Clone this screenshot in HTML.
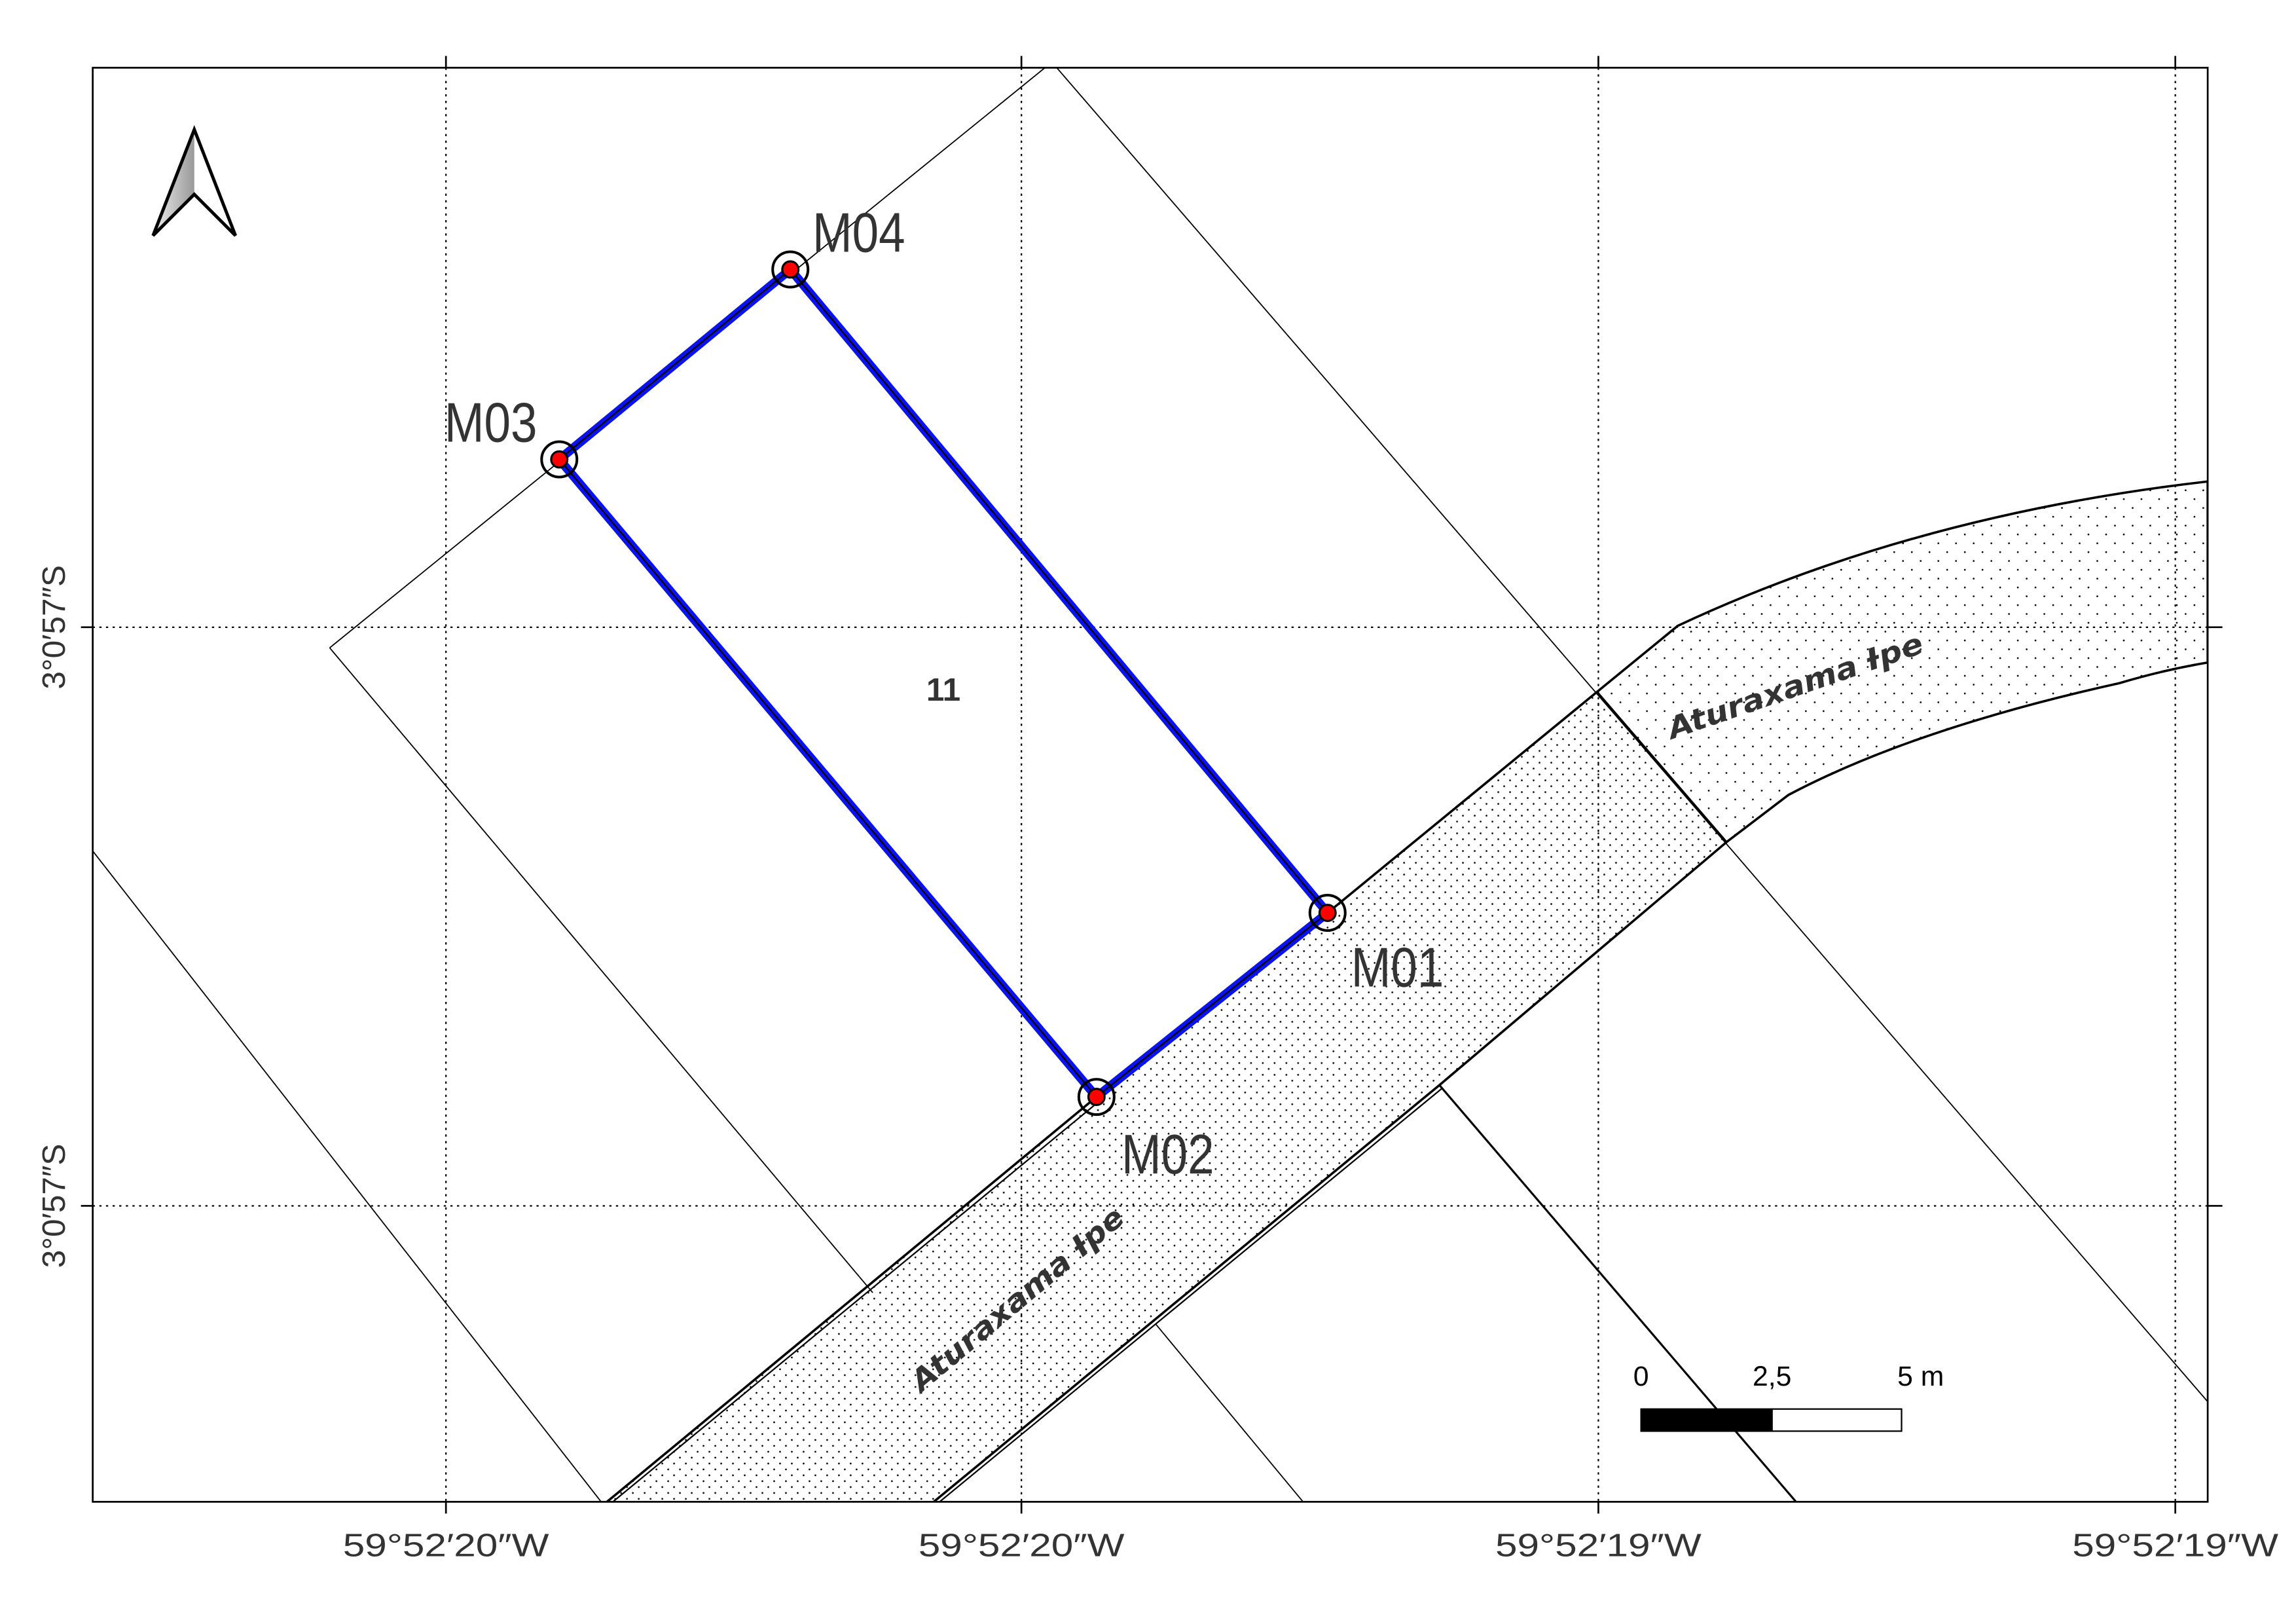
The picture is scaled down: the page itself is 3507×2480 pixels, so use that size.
<!DOCTYPE html>
<html><head><meta charset="utf-8"><style>
html,body{margin:0;padding:0;background:#fff}
svg{display:block}
</style></head><body>
<svg id="map" width="3507" height="2480" viewBox="0 0 1560 1103" preserveAspectRatio="none" xmlns="http://www.w3.org/2000/svg">
<defs>
<pattern id="dots" width="8" height="8" patternUnits="userSpaceOnUse">
<circle cx="2" cy="2" r="0.6" fill="#000"/><circle cx="6" cy="6" r="0.6" fill="#000"/>
</pattern>
<pattern id="dots2" width="12" height="12" patternUnits="userSpaceOnUse">
<circle cx="3" cy="3" r="0.6" fill="#000"/><circle cx="9" cy="9" r="0.6" fill="#000"/>
</pattern>
<linearGradient id="ng" x1="0" x2="1"><stop offset="0" stop-color="#eee"/><stop offset="1" stop-color="#999"/></linearGradient>
<clipPath id="frameclip"><rect x="63" y="46" width="1437" height="974"/></clipPath>
</defs>
<rect x="0" y="0" width="1560" height="1103" fill="#fff"/>
<g clip-path="url(#frameclip)">
  <path d="M410,1022 L745,745 L902,620 L1085,470 L1173,572 L978,737 L632,1022 Z" fill="url(#dots)" stroke="#000" stroke-width="1.6"/>
  <path d="M1085,470 L1140,425 Q1300,350 1500,327 L1500,450 Q1470,455 1440,464 Q1300,495 1215,540 L1173,572 Z" fill="url(#dots2)" stroke="#000" stroke-width="1.6"/>
  <line x1="414" y1="1022" x2="748" y2="747" stroke="#000" stroke-width="1"/>
  <line x1="636" y1="1022" x2="980" y2="739" stroke="#000" stroke-width="1"/>
  <g stroke="#000" stroke-width="0.8" fill="none">
    <polyline points="224,440 710,46"/>
    <line x1="224" y1="440" x2="593" y2="878"/>
    <line x1="63" y1="578" x2="410" y2="1022"/>
    <line x1="718" y1="46" x2="1500" y2="952"/>
    <line x1="785" y1="899" x2="887" y2="1022"/>
    <line x1="978" y1="737" x2="1222" y2="1022" stroke-width="1.4"/>
  </g>
</g>
<g stroke="#000" stroke-width="1" stroke-dasharray="1.5,3" fill="none">
  <line x1="303" y1="46" x2="303" y2="1020"/><line x1="694" y1="46" x2="694" y2="1020"/>
  <line x1="1086" y1="46" x2="1086" y2="1020"/><line x1="1478" y1="46" x2="1478" y2="1020"/>
  <line x1="63" y1="426" x2="1500" y2="426"/><line x1="63" y1="819" x2="1500" y2="819"/>
</g>
<g stroke="#000" stroke-width="1.2">
  <line x1="303" y1="38" x2="303" y2="46"/><line x1="694" y1="38" x2="694" y2="46"/><line x1="1086" y1="38" x2="1086" y2="46"/><line x1="1478" y1="38" x2="1478" y2="46"/>
  <line x1="303" y1="1020" x2="303" y2="1028"/><line x1="694" y1="1020" x2="694" y2="1028"/><line x1="1086" y1="1020" x2="1086" y2="1028"/><line x1="1478" y1="1020" x2="1478" y2="1028"/>
  <line x1="55" y1="426" x2="63" y2="426"/><line x1="55" y1="819" x2="63" y2="819"/>
  <line x1="1500" y1="426" x2="1510" y2="426"/><line x1="1500" y1="819" x2="1510" y2="819"/>
</g>
<rect x="63" y="46" width="1437" height="974" fill="none" stroke="#000" stroke-width="1.2"/>
<g id="marks"></g>
<text x="641" y="476" font-family="Liberation Sans, sans-serif" font-weight="bold" font-size="22" fill="#333" text-anchor="middle">11</text>
<text transform="translate(1136,502) rotate(-19)" font-family="DejaVu Sans, sans-serif" font-weight="bold" font-style="italic" font-size="20" fill="#333" textLength="182" lengthAdjust="spacingAndGlyphs">Aturaxama Ɨpe</text>
<text transform="translate(626,946) rotate(-40)" font-family="DejaVu Sans, sans-serif" font-weight="bold" font-style="italic" font-size="20" fill="#333" textLength="182" lengthAdjust="spacingAndGlyphs">Aturaxama Ɨpe</text>
<g font-family="Liberation Sans Narrow, Liberation Sans, sans-serif" font-size="22" fill="#333" text-anchor="middle">
  <text x="303" y="1057" textLength="140" lengthAdjust="spacingAndGlyphs">59°52′20″W</text><text x="694" y="1057" textLength="140" lengthAdjust="spacingAndGlyphs">59°52′20″W</text><text x="1086" y="1057" textLength="140" lengthAdjust="spacingAndGlyphs">59°52′19″W</text><text x="1478" y="1057" textLength="140" lengthAdjust="spacingAndGlyphs">59°52′19″W</text>
</g>
<g font-family="Liberation Sans Narrow, Liberation Sans, sans-serif" font-size="22" fill="#333" text-anchor="middle">
  <text transform="translate(44,426) rotate(-90)">3°0′57″S</text><text transform="translate(44,819) rotate(-90)">3°0′57″S</text>
</g>
<g>
  <path d="M132,88 L104,160 L132,132 Z" fill="url(#ng)"/>
  <path d="M132,88 L104,160 L132,132 L160,160 Z" fill="none" stroke="#000" stroke-width="2.2" stroke-linejoin="miter"/>
</g>
<g>
  <rect x="1115" y="957" width="89" height="15" fill="#000" stroke="#000"/>
  <rect x="1204" y="957" width="88" height="15" fill="#fff" stroke="#000"/>
  <g font-family="Liberation Sans Narrow, Liberation Sans, sans-serif" font-size="19" fill="#000" text-anchor="middle">
    <text x="1115" y="941">0</text><text x="1204" y="941">2,5</text><text x="1305" y="941">5 m</text>
  </g>
</g>
</svg>
<script>
const names = ['M01','M02','M03','M04'];
const xs = [902, 745, 380, 537];
const ys = [620, 745, 312, 183];
const lx = [918, 762, 302, 552];
const ly = [670, 797, 300, 171];
const NS='http://www.w3.org/2000/svg';
const g=document.getElementById('marks');
const pts=xs.map((x,i)=>x+','+ys[i]).join(' ');
const outer=document.createElementNS(NS,'polygon');
outer.setAttribute('points',pts);outer.setAttribute('fill','none');outer.setAttribute('stroke','#0a12f0');outer.setAttribute('stroke-width','6');


g.appendChild(outer);
const inner=document.createElementNS(NS,'polygon');
inner.setAttribute('points',pts);inner.setAttribute('fill','none');inner.setAttribute('stroke','#000');inner.setAttribute('stroke-width','1');


g.appendChild(inner);
xs.forEach(function(x,i){
  const c=document.createElementNS(NS,'circle');
  c.setAttribute('cx',x);c.setAttribute('cy',ys[i]);c.setAttribute('r','12');c.setAttribute('fill','none');c.setAttribute('stroke','#000');c.setAttribute('stroke-width','1.8');
  
  
  g.appendChild(c);
  const d=document.createElementNS(NS,'circle');
  d.setAttribute('cx',x);d.setAttribute('cy',ys[i]);d.setAttribute('r','5.5');d.setAttribute('fill','#f00');d.setAttribute('stroke','#000');d.setAttribute('stroke-width','1.4');
  
  
  g.appendChild(d);
  const t=document.createElementNS(NS,'text');
  t.setAttribute('x',lx[i]);t.setAttribute('y',ly[i]);t.setAttribute('font-family','Liberation Sans Narrow, Liberation Sans, sans-serif');t.setAttribute('font-size','38');t.setAttribute('fill','#333');
  t.setAttribute('textLength','63');t.setAttribute('lengthAdjust','spacingAndGlyphs');
  t.textContent=names[i];
  
  
  g.appendChild(t);
});
</script>
</body></html>
